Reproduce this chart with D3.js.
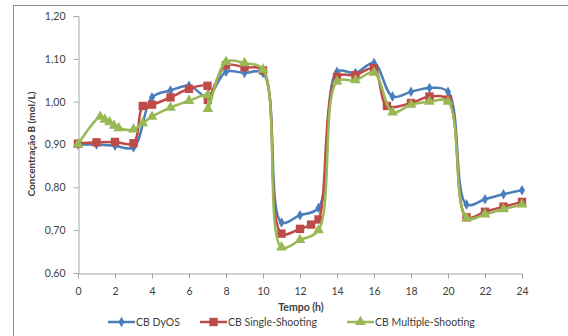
<!DOCTYPE html>
<html>
<head>
<meta charset="utf-8">
<script src="https://cdn.jsdelivr.net/npm/d3@7"></script>
<style>
  body { margin: 0; background: #fff; }
  svg text { font-family: Lato, "Open Sans", sans-serif; fill: #404040; }
</style>
</head>
<body>
<svg id="chart" width="568" height="336"></svg>
<script>
// series
var dyosT = [0,1,2,3,4,5,6,7,8,9,10,11,12,13,14,15,16,17,18,19,20,21,22,23,24]
var dyosV = [0.900,0.900,0.897,0.893,1.010,1.026,1.037,1.012,1.070,1.067,1.067,0.718,0.735,0.752,1.070,1.067,1.090,1.012,1.023,1.032,1.023,0.760,0.772,0.784,0.793]

var singleT = [0,1,2,3,3.5,4,5,6,7,7.02,8,9,10,11,12,12.6,13,14,15,16,16.7,18,19,20,21,22,23,24]
var singleV = [0.902,0.905,0.906,0.903,0.990,0.993,1.010,1.030,1.037,1.004,1.085,1.080,1.073,0.692,0.703,0.713,0.725,1.058,1.062,1.078,0.990,0.997,1.012,1.005,0.730,0.743,0.755,0.766]

var multiT = [0,1.2,1.45,1.7,1.95,2.2,3,3.5,4,5,6,7,7.02,8,9,10,11,12,13,14,15,16,17,18,19,20,21,22,23,24]
var multiV = [0.900,0.965,0.958,0.952,0.944,0.938,0.935,0.950,0.965,0.986,1.002,1.015,0.983,1.093,1.090,1.075,0.660,0.677,0.700,1.047,1.050,1.068,0.975,0.993,1.000,1.000,0.728,0.737,0.749,0.760]

var xTicks = [0,2,4,6,8,10,12,14,16,18,20,22,24]
var yTicks = [0.60,0.70,0.80,0.90,1.00,1.10,1.20]

var seriesNames = ['CB DyOS', 'CB Single-Shooting', 'CB Multiple-Shooting']
var seriesColors = ['#4a7ebb', '#be4b48', '#98b954']
var seriesSymbols = [d3.symbolDiamond, d3.symbolSquare, d3.symbolTriangle]
var symbolSizes = [32, 70, 50]

var series = [
  {t: dyosT, v: dyosV},
  {t: singleT, v: singleV},
  {t: multiT, v: multiV}
]

var svg = d3.select('svg#chart')

// outer chart frame
svg.append('rect')
    .attr('x', 13.5).attr('y', 5.5)
    .attr('width', 600).attr('height', 400)
    .attr('fill', 'none')
    .attr('stroke', '#8c8c8c')
    .attr('stroke-width', 1)

var x = d3.scaleLinear().domain([0, 24]).range([78, 522])
var y = d3.scaleLinear().domain([0.6, 1.2]).range([273, 16])

var fmt = d => d.toFixed(2).replace('.', ',')

var yAxis = svg.append('g')
    .attr('transform', 'translate(78.5,0)')
    .call(d3.axisLeft(y).tickValues(yTicks).tickFormat(fmt).tickSize(5).tickPadding(8))
yAxis.select('.domain').attr('stroke', '#a6a6a6')
yAxis.selectAll('line').attr('stroke', '#a6a6a6')
yAxis.selectAll('text').style('font-size', '10.5px').attr('fill', '#404040')

var xAxis = svg.append('g')
    .attr('transform', 'translate(0,273.5)')
    .call(d3.axisBottom(x).tickValues(xTicks).tickFormat(d3.format('d')).tickSize(5).tickPadding(9))
xAxis.select('.domain').attr('stroke', '#a6a6a6')
xAxis.selectAll('line').attr('stroke', '#a6a6a6')
xAxis.selectAll('text').style('font-size', '10.5px').attr('fill', '#404040')

// axis titles
svg.append('text')
    .attr('transform', 'translate(31,144) rotate(-90)')
    .attr('text-anchor', 'middle')
    .attr('dominant-baseline', 'central')
    .style('font-size', '10px')
    .style('font-weight', 'bold')
    .text('Concentração B (mol/L)')

svg.append('text')
    .attr('x', 301).attr('y', 307)
    .attr('text-anchor', 'middle')
    .attr('dominant-baseline', 'central')
    .style('font-size', '10.5px')
    .style('font-weight', 'bold')
    .text('Tempo (h)')

var line = d3.line()
    .x(d => x(d[0]))
    .y(d => y(d[1]))
    .curve(d3.curveCatmullRom.alpha(0.5))

series.forEach((s, i) => {
  var pts = s.t.map((t, k) => [t, s.v[k]])
  var g = svg.append('g')
  g.append('path')
      .datum(pts)
      .attr('d', line)
      .attr('fill', 'none')
      .attr('stroke', seriesColors[i])
      .attr('stroke-width', 2.5)
      .attr('stroke-linejoin', 'round')
  g.selectAll('path.mk')
    .data(pts)
    .join('path')
      .attr('class', 'mk')
      .attr('transform', d => `translate(${x(d[0])},${y(d[1])})`)
      .attr('d', d3.symbol().type(seriesSymbols[i]).size(symbolSizes[i]))
      .attr('fill', seriesColors[i])
})

// legend
var legendX = [108, 200, 347]
var legend = svg.append('g')
seriesNames.forEach((name, i) => {
  var lg = legend.append('g').attr('transform', `translate(${legendX[i]},322)`)
  lg.append('line')
      .attr('x1', 0).attr('x2', 27)
      .attr('stroke', seriesColors[i])
      .attr('stroke-width', 2.5)
  lg.append('path')
      .attr('transform', 'translate(13.5,0)')
      .attr('d', d3.symbol().type(seriesSymbols[i]).size(symbolSizes[i]))
      .attr('fill', seriesColors[i])
  lg.append('text')
      .attr('x', 28).attr('y', 0)
      .attr('dominant-baseline', 'central')
      .style('font-size', '10.5px')
      .text(name)
})
</script>
</body>
</html>
